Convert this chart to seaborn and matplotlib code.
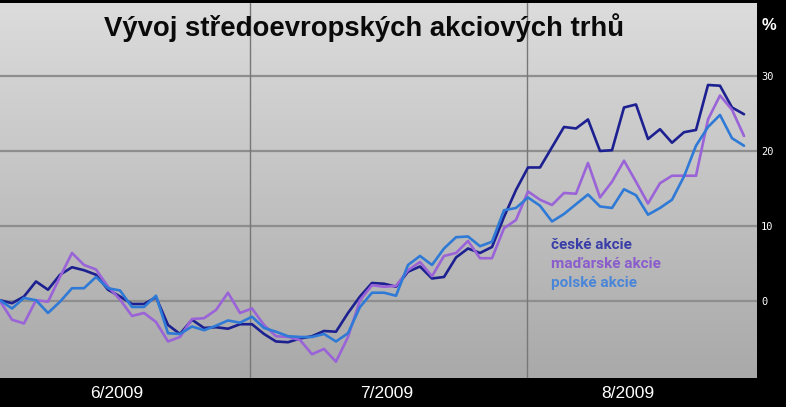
import numpy as np
import pandas as pd
import matplotlib
matplotlib.use("Agg")
import matplotlib.pyplot as plt
from matplotlib.colors import LinearSegmentedColormap
import seaborn as sns

# ---- data (percent change, daily points) ----
czech = [0.1, -0.3, 0.6, 2.6, 1.5, 3.5, 4.5, 4.1, 3.5, 1.5,
         0.6, -0.4, -0.4, 0.5, -3.2, -4.4, -2.5, -3.6, -3.5, -3.7,
         -3.1, -3.1, -4.4, -5.4, -5.5, -5.0, -4.7, -4.0, -4.1, -1.6,
         0.6, 2.4, 2.3, 1.9, 3.9, 4.6, 3.0, 3.2, 5.8, 7.0,
         6.4, 7.2, 11.2, 14.8, 17.8, 17.8, 20.5, 23.2, 23.0, 24.2,
         20.0, 20.1, 25.8, 26.2, 21.6, 22.9, 21.1, 22.5, 22.8, 28.8,
         28.7, 25.8, 24.9]
hungary = [0.0, -2.5, -3.0, 0.1, -0.1, 3.2, 6.4, 4.8, 4.2, 1.9,
           0.2, -2.0, -1.6, -2.8, -5.4, -4.8, -2.4, -2.3, -1.2, 1.1,
           -1.6, -1.0, -3.2, -4.7, -4.8, -5.2, -7.1, -6.4, -8.1, -4.8,
           0.1, 2.1, 1.9, 2.0, 4.1, 5.2, 3.3, 6.0, 6.4, 8.0,
           5.7, 5.7, 9.7, 10.8, 14.6, 13.5, 12.8, 14.4, 14.3, 18.4,
           13.8, 15.9, 18.7, 15.9, 13.0, 15.7, 16.7, 16.7, 16.7, 24.2,
           27.4, 25.5, 22.0]
poland = [0.1, -1.0, 0.4, 0.1, -1.6, -0.1, 1.7, 1.7, 3.2, 1.7,
          1.4, -0.8, -0.8, 0.7, -4.3, -4.4, -3.4, -3.9, -3.3, -2.6,
          -2.9, -2.1, -3.6, -4.1, -4.7, -4.8, -4.8, -4.4, -5.4, -4.3,
          -0.8, 1.1, 1.1, 0.7, 4.8, 6.0, 4.8, 7.0, 8.5, 8.6,
          7.3, 7.9, 12.1, 12.4, 13.8, 12.7, 10.6, 11.6, 12.9, 14.2,
          12.6, 12.4, 14.9, 14.1, 11.5, 12.4, 13.5, 16.6, 20.7, 23.2,
          24.8, 21.7, 20.7]

series_names = ["české akcie", "maďarské akcie", "polské akcie"]
line_colors = ["#1c2090", "#9a63d8", "#2f7ad6"]
legend_colors = ["#3a3fa8", "#8a5ccc", "#4a86d8"]
month_labels = ["6/2009", "7/2009", "8/2009"]
month_label_pos = [9.75, 32.25, 52.3]
month_boundaries = [20.85, 43.9]
y_ticks = [0, 10, 20, 30]
title = "Vývoj středoevropských akciových trhů"

n = len(czech)
df = pd.DataFrame({
    "den": list(range(n)) * 3,
    "hodnota": czech + hungary + poland,
    "trh": [series_names[0]] * n + [series_names[1]] * n + [series_names[2]] * n,
})

sns.set_theme(style="white")
plt.rcParams["font.family"] = ["Liberation Sans", "DejaVu Sans"]

fig = plt.figure(figsize=(7.86, 4.07), dpi=100, facecolor="black")
ax = fig.add_axes([0, 1 - 378 / 407, 757 / 786, 375 / 407])

# gradient background: light at top, darker at bottom
grad = np.linspace(0, 1, 256).reshape(-1, 1)
cmap = LinearSegmentedColormap.from_list("bg", ["#dcdcdc", "#a9a9a9"])
ax.imshow(grad, aspect="auto", cmap=cmap, extent=[0, 1, 0, 1], origin="upper",
          transform=ax.transAxes, zorder=0)

sns.lineplot(data=df, x="den", y="hodnota", hue="trh", palette=line_colors,
             linewidth=1.9, ax=ax, legend=False, zorder=3)

ax.set_xlim(0, 757 / 12)
ax.set_ylim(-10.27, 39.73)

for yv in y_ticks:
    ax.axhline(yv, color="#8e8e8e", linewidth=1.6, zorder=1)
for xv in month_boundaries:
    ax.axvline(xv, color="#777777", linewidth=1.0, zorder=1)

ax.yaxis.tick_right()
ax.set_yticks(y_ticks)
ax.set_yticklabels([str(v) for v in y_ticks], color="white",
                   fontfamily="DejaVu Sans Mono", fontsize=7.5)
ax.tick_params(axis="y", length=0, pad=3)
ax.set_xticks([])
ax.set_xlabel("")
ax.set_ylabel("")
for s in ax.spines.values():
    s.set_visible(False)

for lbl, xp in zip(month_labels, month_label_pos):
    ax.text(xp, -0.042, lbl, transform=ax.get_xaxis_transform(),
            ha="center", va="center", color="white", fontsize=12.5)

fig.text(769 / 786, 1 - 25 / 407, "%", color="white", fontsize=12,
         fontweight="bold", ha="center", va="center")

fig.text(364 / 786, 1 - 28 / 407, title, color="#0a0a0a", fontsize=19.8,
         fontweight="bold", ha="center", va="center")

for i, (name, col) in enumerate(zip(series_names, legend_colors)):
    fig.text(551 / 786, 1 - (245 + 19 * i) / 407, name, color=col,
             fontsize=11, fontweight="bold", ha="left", va="center",
             family=["Roboto", "DejaVu Sans"])

fig.savefig("out.png", dpi=100, facecolor="black")
